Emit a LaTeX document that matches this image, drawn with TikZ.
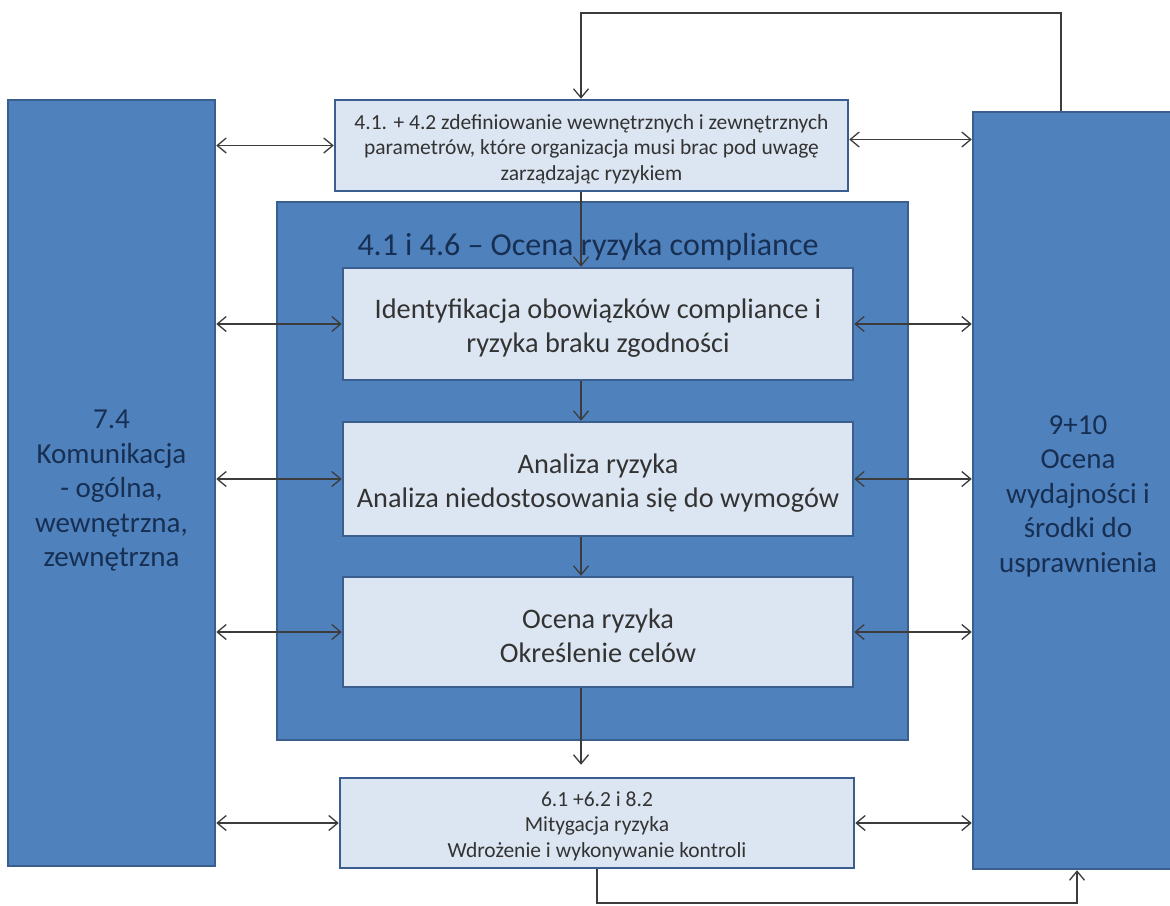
\documentclass[tikz,border=0pt]{standalone}
\usepackage{fontspec}
\setmainfont{Carlito}
\usetikzlibrary{arrows.meta,calc}
\definecolor{dblue}{HTML}{4F81BD}
\definecolor{bord}{HTML}{3A5F8E}
\definecolor{lblue}{HTML}{DCE6F2}
\definecolor{navy}{HTML}{172F52}
\definecolor{gtext}{HTML}{333333}
\definecolor{arrc}{HTML}{3C3C3C}
\begin{document}
\begin{tikzpicture}[x=1pt,y=-1pt,
 darkbox/.style={draw=bord, fill=dblue, line width=2.5pt, inner sep=0pt},
 lightbox/.style={draw=bord, fill=lblue, line width=2.5pt, inner sep=0pt},
 darktext/.style={text=navy, align=center, inner sep=0pt},
 lighttext/.style={text=gtext, align=center, inner sep=0pt},
 bigtext/.style={font=\fontsize{29}{34.5}\selectfont},
 midtext/.style={font=\fontsize{28.3}{34}\selectfont},
 smalltext/.style={font=\fontsize{21.5}{25.5}\selectfont},
 conn/.style={draw=arrc, line width=1.3pt, {Straight Barb[length=9pt,width=15pt]}-{Straight Barb[length=9pt,width=15pt]}},
 flow/.style={draw=arrc, line width=1.3pt, -{Straight Barb[length=9pt,width=15pt]}}]
\useasboundingbox (0,0) rectangle (1170,905);
\fill[white] (0,0) rectangle (1170,905);

\node[darkbox, minimum width=207pt, minimum height=766pt] (left) at (111.5,483) {};
\node[darktext, bigtext] (lefttext) at (111.5,491)
  {7.4\\Komunikacja\\- ogólna,\\wewnętrzna,\\zewnętrzna};
\node[darkbox, minimum width=210pt, minimum height=757pt] (right) at (1078,490.5) {};
\node[darktext, bigtext] (righttext) at (1078,496)
  {9+10\\Ocena\\wydajności i\\środki do\\usprawnienia};
\node[lightbox, minimum width=513pt, minimum height=91pt] (top) at (591.5,145.5) {};
\node[lighttext, smalltext] (toptext) at (591.5,149)
  {4.1. + 4.2 zdefiniowanie wewnętrznych i zewnętrznych\\parametrów, które organizacja musi brac pod uwagę\\zarządzając ryzykiem};
\node[darkbox, minimum width=631pt, minimum height=538pt] (outer) at (592.5,471) {};
\node[font=\fontsize{32}{38}\selectfont, text=navy, anchor=base] (title) at (588,255)
  {4.1 i 4.6 – Ocena ryzyka compliance};
\node[lightbox, minimum width=510pt, minimum height=112pt] (inner1) at (598,324) {};
\node[lighttext, midtext] (inner1text) at (598,328)
  {Identyfikacja obowiązków compliance i\\ryzyka braku zgodności};
\node[lightbox, minimum width=510pt, minimum height=114pt] (inner2) at (598,479) {};
\node[lighttext, midtext] (inner2text) at (598,483)
  {Analiza ryzyka\\Analiza niedostosowania się do wymogów};
\node[lightbox, minimum width=510pt, minimum height=110pt] (inner3) at (598,632) {};
\node[lighttext, midtext] (inner3text) at (598,636)
  {Ocena ryzyka\\Określenie celów};
\node[lightbox, minimum width=514pt, minimum height=90pt] (bottom) at (597,823) {};
\node[lighttext, smalltext] (bottomtext) at (597,826)
  {6.1 +6.2 i 8.2\\Mitygacja ryzyka\\Wdrożenie i wykonywanie kontroli};

\coordinate (vx) at (581,0);
\coordinate (bx) at (597,0);
\coordinate (fbT) at (1061,13);
\coordinate (fbB) at (1077,903);
\coordinate (tr) at ($(top.east)+(0,-6)$);

\draw[conn] (left.east |- top.west) -- (top.west);
\draw[conn] (tr) -- (tr -| right.west);
\draw[conn] (left.east |- inner1.west) -- (inner1.west);
\draw[conn] (inner1.east) -- (right.west |- inner1.east);
\draw[conn] (left.east |- inner2.west) -- (inner2.west);
\draw[conn] (inner2.east) -- (right.west |- inner2.east);
\draw[conn] (left.east |- inner3.west) -- (inner3.west);
\draw[conn] (inner3.east) -- (right.west |- inner3.east);
\draw[conn] (left.east |- bottom.west) -- (bottom.west);
\draw[conn] (bottom.east) -- (right.west |- bottom.east);

\draw[flow] (top.south -| vx) -- (inner1.north -| vx);
\draw[flow] (inner1.south -| vx) -- (inner2.north -| vx);
\draw[flow] (inner2.south -| vx) -- (inner3.north -| vx);
\draw[flow, shorten >=12pt] (inner3.south -| vx) -- (bottom.north -| vx);

\draw[flow] (right.north -| fbT) -- (fbT) -- (fbT -| vx) -- (top.north -| vx);
\draw[flow] (bottom.south -| bx) -- (bx |- fbB) -- (fbB) -- (right.south -| fbB);
\end{tikzpicture}
\end{document}
